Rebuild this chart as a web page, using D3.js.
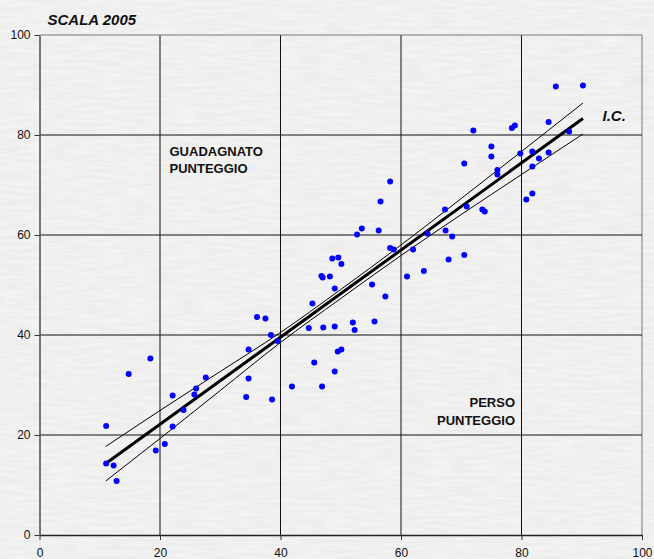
<!DOCTYPE html>
<html>
<head>
<meta charset="utf-8">
<script src="https://cdn.jsdelivr.net/npm/d3@7"></script>
<style>
  html, body { margin: 0; padding: 0; background: #eeeeee; }
  svg { display: block; }
</style>
</head>
<body>
<svg id="chart" width="654" height="559"></svg>
<script>
// Observed scores: x = expected, y = obtained
const pointX = [11.06, 14.8, 18.4, 11.06, 12.3, 12.8, 19.3, 20.8, 22.1, 22.1, 23.9, 25.7, 26.0, 27.6,
  34.3, 34.7, 34.7, 36.1, 37.5, 38.4, 39.5, 38.6, 41.9, 44.7, 45.3, 45.6, 46.9, 47.1, 49.0, 49.0,
  49.0, 49.5, 50.1, 52.0, 52.3, 55.2, 55.6, 57.4, 46.8, 47.0, 48.2, 48.6, 49.6, 50.1, 52.7, 53.5,
  56.3, 56.6, 58.2, 58.2, 58.8, 61.0, 62.0, 63.8, 64.4, 67.3, 67.4, 67.9, 68.5, 70.5, 70.9, 73.5,
  73.9, 76.0, 76.0, 85.7, 90.2, 72.0, 78.4, 78.9, 84.5, 87.9, 75.0, 75.0, 70.5, 79.8, 81.8, 82.9,
  84.5, 81.8, 80.8, 81.8];
const pointY = [21.8, 32.2, 35.3, 14.3, 13.9, 10.8, 16.9, 18.2, 27.9, 21.7, 25.0, 28.1, 29.3, 31.5,
  27.6, 31.3, 37.1, 43.6, 43.3, 40.0, 38.8, 27.1, 29.7, 41.4, 46.3, 34.5, 29.7, 41.5, 49.3, 41.7,
  32.7, 36.7, 37.1, 42.5, 41.0, 50.1, 42.7, 47.7, 51.8, 51.5, 51.7, 55.3, 55.5, 54.2, 60.1, 61.3,
  60.9, 66.7, 70.7, 57.4, 57.1, 51.7, 57.1, 52.8, 60.3, 65.1, 60.9, 55.1, 59.7, 56.0, 65.7, 65.1,
  64.7, 73.0, 72.1, 89.7, 89.9, 80.9, 81.4, 81.9, 82.6, 80.7, 77.7, 75.7, 74.3, 76.3, 76.7, 75.3,
  76.5, 73.7, 67.1, 68.3];

// Regression line end points
const fitX = [11, 90.2];
const fitY = [14.3, 83.3];

// Confidence band (I.C.) read along x
const bandX = [11, 20, 30, 40, 50, 60, 70, 80, 90.2];
const bandUpper = [17.7, 24.9, 32.7, 40.5, 49.1, 58.0, 67.3, 76.7, 86.4];
const bandLower = [10.8, 19.3, 28.9, 38.5, 47.3, 55.9, 64.1, 72.1, 80.2];

const tickValues = [0, 20, 40, 60, 80, 100];

const svg = d3.select("#chart");
const W = 654, H = 559;
const plotLeft = 39.5, plotRight = 642, plotTop = 35, plotBottom = 535;

// Light paper-like grey backdrop with fine streaks
const defs = svg.append("defs");
const f = defs.append("filter").attr("id", "paper")
  .attr("x", 0).attr("y", 0).attr("width", "100%").attr("height", "100%");
f.append("feTurbulence").attr("type", "fractalNoise")
  .attr("baseFrequency", "0.04 0.3").attr("numOctaves", 3).attr("seed", 11);
f.append("feColorMatrix").attr("type", "matrix")
  .attr("values", "0 0 0 0 1  0 0 0 0 1  0 0 0 0 1  0.8 0 0 0 -0.2");
svg.append("rect").attr("width", W).attr("height", H).attr("fill", "#ececec");
svg.append("rect").attr("width", W).attr("height", H).attr("filter", "url(#paper)");

const x = d3.scaleLinear().domain([0, 100]).range([plotLeft, plotRight]);
const y = d3.scaleLinear().domain([0, 100]).range([plotBottom, plotTop]);

// Grid
const grid = svg.append("g");
grid.selectAll("line.v").data(tickValues.filter(v => v > 0)).join("line")
  .attr("class", "v")
  .attr("x1", d => x(d)).attr("x2", d => x(d))
  .attr("y1", plotTop).attr("y2", plotBottom)
  .attr("stroke", d => d === 100 ? "#777" : "#111").attr("stroke-width", 1);
grid.selectAll("line.h").data(tickValues.filter(v => v > 0)).join("line")
  .attr("class", "h")
  .attr("x1", plotLeft).attr("x2", plotRight)
  .attr("y1", d => y(d)).attr("y2", d => y(d))
  .attr("stroke", d => d === 100 ? "#777" : "#111").attr("stroke-width", 1);

// Axes
const xAxis = svg.append("g").attr("transform", `translate(0,${plotBottom})`)
  .call(d3.axisBottom(x).tickValues(tickValues).tickSize(5).tickPadding(8).tickSizeOuter(0));
const yAxis = svg.append("g").attr("transform", `translate(${plotLeft},0)`)
  .call(d3.axisLeft(y).tickValues(tickValues).tickSize(5).tickPadding(4).tickSizeOuter(0));
[xAxis, yAxis].forEach(a => {
  a.selectAll("text").attr("font-family", "Liberation Sans, Arial, sans-serif")
    .attr("font-size", 12).attr("fill", "#111");
  a.selectAll("line").attr("stroke", "#333");
});
xAxis.select(".domain").attr("stroke", "#222").attr("stroke-width", 1.6);
yAxis.select(".domain").attr("stroke", "#555").attr("stroke-width", 1.6);

// Confidence band lines
const bandLine = d3.line().curve(d3.curveMonotoneX);
svg.append("path")
  .attr("d", bandLine(bandX.map((v, i) => [x(v), y(bandUpper[i])])))
  .attr("fill", "none").attr("stroke", "#000").attr("stroke-width", 1);
svg.append("path")
  .attr("d", bandLine(bandX.map((v, i) => [x(v), y(bandLower[i])])))
  .attr("fill", "none").attr("stroke", "#000").attr("stroke-width", 1);

// Regression line
svg.append("path")
  .attr("d", d3.line()(fitX.map((v, i) => [x(v), y(fitY[i])])))
  .attr("fill", "none").attr("stroke", "#000").attr("stroke-width", 3);

// Points
svg.append("g").selectAll("circle").data(pointX).join("circle")
  .attr("cx", d => x(d)).attr("cy", (d, i) => y(pointY[i]))
  .attr("r", 3).attr("fill", "#0000ff");

// Labels
const font = "Liberation Sans, Arial, sans-serif";
svg.append("text").attr("x", 47.5).attr("y", 25).text("SCALA 2005")
  .attr("font-family", font).attr("font-size", 15).attr("font-weight", "bold")
  .attr("font-style", "italic").attr("fill", "#111");
svg.append("text").attr("x", 602.5).attr("y", 121).text("I.C.")
  .attr("font-family", font).attr("font-size", 15).attr("font-weight", "bold")
  .attr("font-style", "italic").attr("fill", "#111");

const gain = svg.append("text").attr("font-family", font).attr("font-size", 13)
  .attr("font-weight", "bold").attr("fill", "#111");
gain.append("tspan").attr("x", 169.5).attr("y", 156).text("GUADAGNATO");
gain.append("tspan").attr("x", 169.5).attr("y", 172.5).text("PUNTEGGIO");

const loss = svg.append("text").attr("font-family", font).attr("font-size", 13)
  .attr("font-weight", "bold").attr("fill", "#111").attr("text-anchor", "end");
loss.append("tspan").attr("x", 515).attr("y", 407).text("PERSO");
loss.append("tspan").attr("x", 515).attr("y", 424.5).text("PUNTEGGIO");
</script>
</body>
</html>
